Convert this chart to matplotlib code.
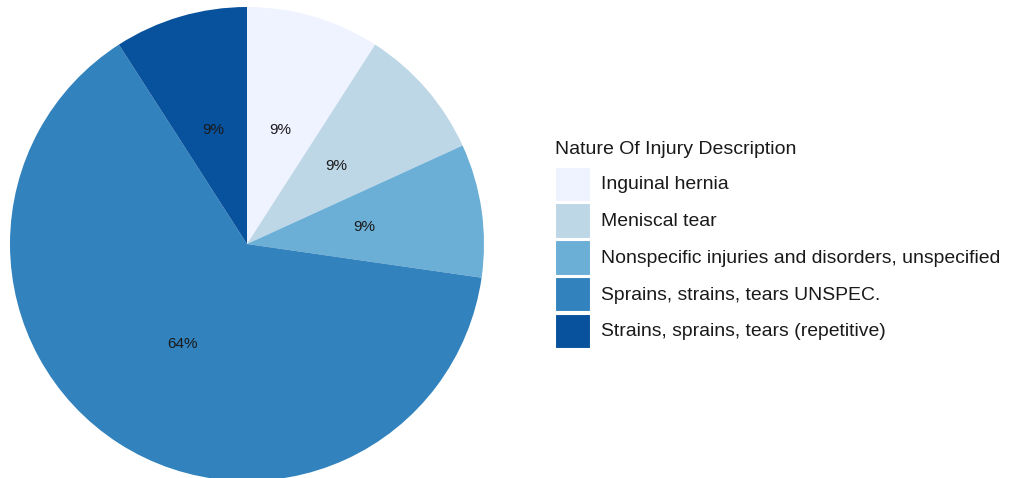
import matplotlib.pyplot as plt
from matplotlib.patches import Rectangle

plt.rcParams["font.family"] = ["Liberation Sans", "DejaVu Sans"]

# injury counts by nature of injury
categories = [
    "Inguinal hernia",
    "Meniscal tear",
    "Nonspecific injuries and disorders, unspecified",
    "Sprains, strains, tears UNSPEC.",
    "Strains, sprains, tears (repetitive)",
]
counts = [1, 1, 1, 7, 1]
colors = ["#eff3ff", "#bdd7e7", "#6baed6", "#3182bd", "#08519c"]
legend_title = "Nature Of Injury Description"

W, H = 1010, 478
fig = plt.figure(figsize=(W / 100, H / 100), dpi=100)

# pie centred at (247, 244) px with radius 237 px
cx, cy, r = 247, 244, 237
ax = fig.add_axes([(cx - r) / W, (H - cy - r) / H, 2 * r / W, 2 * r / H])
ax.pie(
    counts,
    colors=colors,
    startangle=90,
    counterclock=False,
    autopct=lambda p: f"{p:.0f}%",
    pctdistance=0.5,
    radius=1,
    wedgeprops=dict(linewidth=0),
    textprops=dict(fontsize=11, color="#1a1a1a"),
)
ax.set_xlim(-1, 1)
ax.set_ylim(-1, 1)
ax.set_aspect("equal")
ax.axis("off")

# legend drawn on an overlay axes in pixel units
lg = fig.add_axes([0, 0, 1, 1])
lg.set_xlim(0, W)
lg.set_ylim(H, 0)
lg.axis("off")
lg.text(555, 149.5, legend_title, fontsize=14, color="#1a1a1a",
        ha="left", va="center")
key_x, key_w, key_h, pitch, top = 555, 35, 34.5, 36.8, 166.5
for i, (cat, col) in enumerate(zip(categories, colors)):
    y0 = top + i * pitch
    lg.add_patch(Rectangle((key_x, y0), key_w, key_h, facecolor=col,
                           edgecolor="white", linewidth=0.8))
    lg.text(601, y0 + key_h / 2 + 1, cat, fontsize=13.95, color="#1a1a1a",
            ha="left", va="center")

fig.savefig("out.png", dpi=100)
